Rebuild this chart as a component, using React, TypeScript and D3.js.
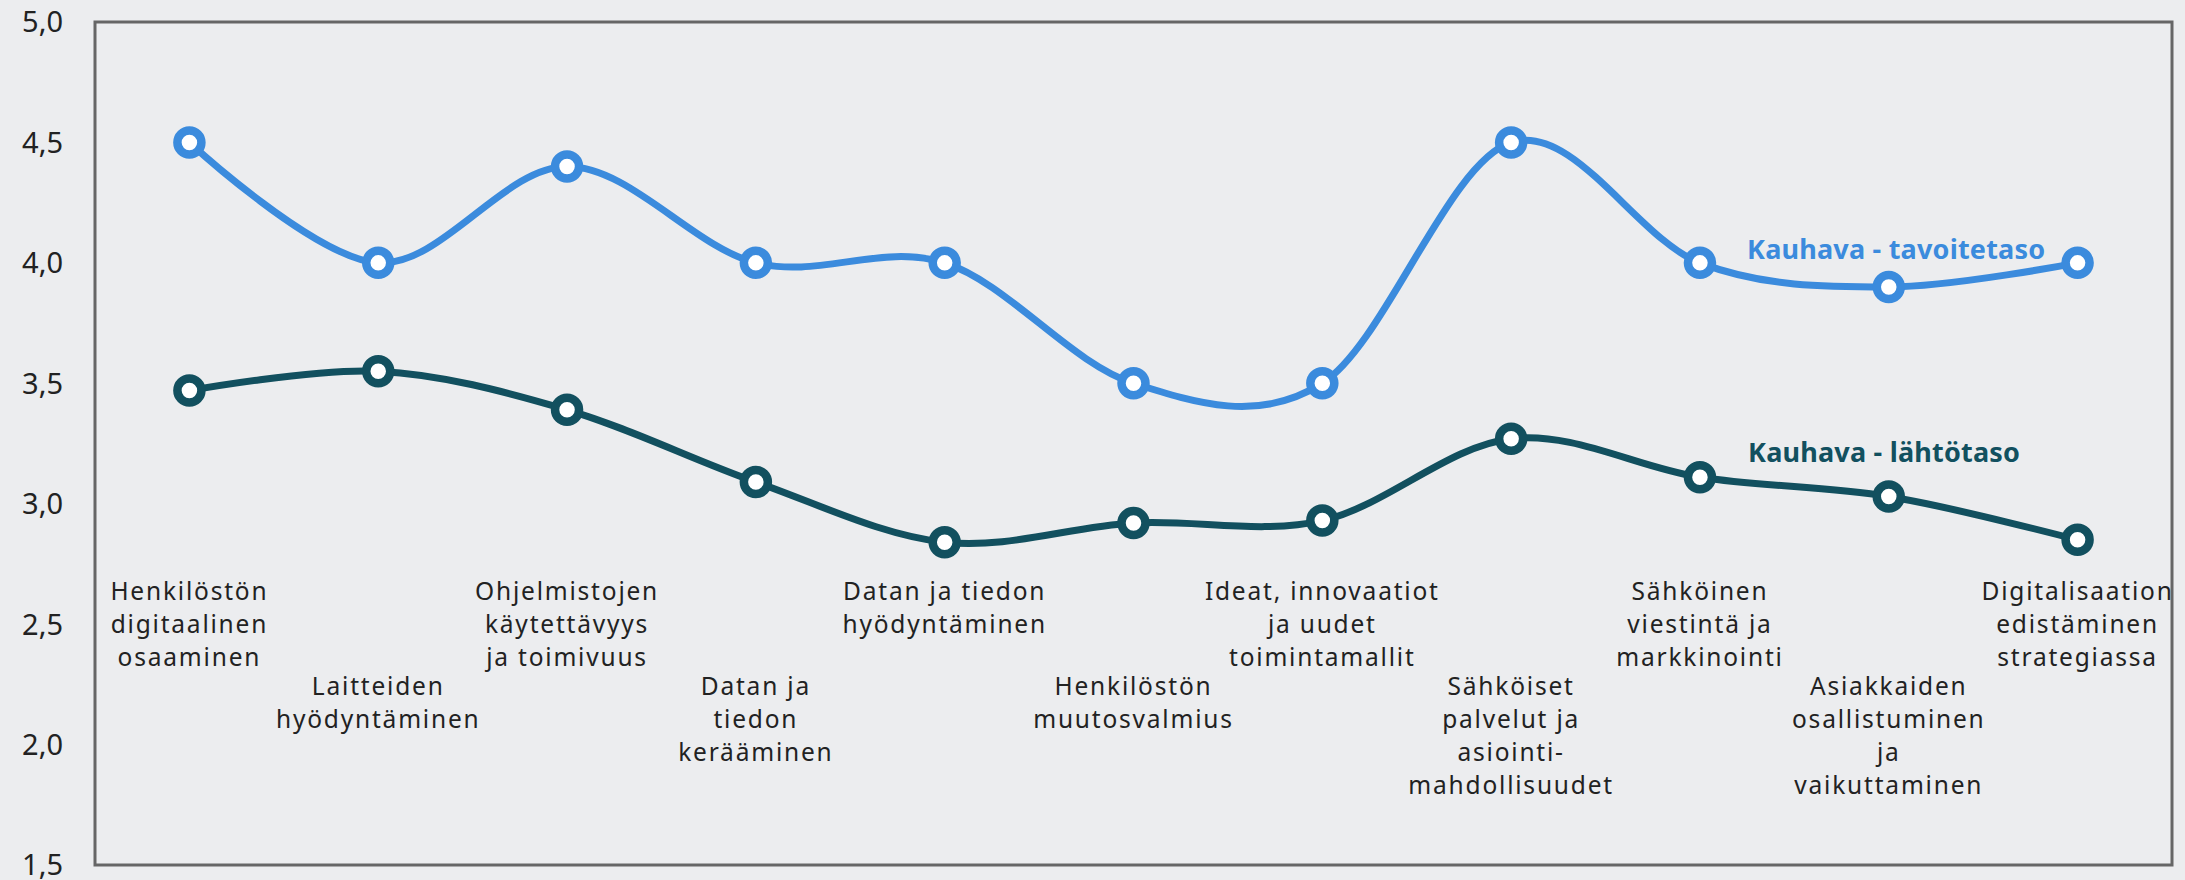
import * as d3 from 'd3';
import { useEffect, useRef } from 'react';

const categories = [
  ['Henkilöstön', 'digitaalinen', 'osaaminen'],
  ['Laitteiden', 'hyödyntäminen'],
  ['Ohjelmistojen', 'käytettävyys', 'ja toimivuus'],
  ['Datan ja', 'tiedon', 'kerääminen'],
  ['Datan ja tiedon', 'hyödyntäminen'],
  ['Henkilöstön', 'muutosvalmius'],
  ['Ideat, innovaatiot', 'ja uudet', 'toimintamallit'],
  ['Sähköiset', 'palvelut ja', 'asiointi-', 'mahdollisuudet'],
  ['Sähköinen', 'viestintä ja', 'markkinointi'],
  ['Asiakkaiden', 'osallistuminen', 'ja', 'vaikuttaminen'],
  ['Digitalisaation', 'edistäminen', 'strategiassa'],
];

const tavoitetaso = [4.5, 4.0, 4.4, 4.0, 4.0, 3.5, 3.5, 4.5, 4.0, 3.9, 4.0];
const lahtotaso = [3.47, 3.55, 3.39, 3.09, 2.84, 2.92, 2.93, 3.27, 3.11, 3.03, 2.85];

const yTicks = [1.5, 2.0, 2.5, 3.0, 3.5, 4.0, 4.5, 5.0];

const seriesNames = ['Kauhava - tavoitetaso', 'Kauhava - lähtötaso'];

const dimensions = {
  width: 2185,
  height: 880,
  left: 95,
  right: 2172,
  top: 22,
  bottom: 865,
};

const BLUE = '#3b8bdd';
const TEAL = '#12505f';
const FONT = "'Noto Sans', sans-serif";

export default function App() {
  const svgRef = useRef(null);

  useEffect(() => {
    const svg = d3.select(svgRef.current);
    svg.selectAll('*').remove();

    const xScale = d3
      .scaleBand()
      .domain(categories.map((_, i) => String(i)))
      .range([dimensions.left, dimensions.right]);
    const xc = (i: number) => (xScale(String(i)) as number) + xScale.bandwidth() / 2;

    const yScale = d3
      .scaleLinear()
      .domain([1.5, 5])
      .range([dimensions.bottom, dimensions.top]);

    svg
      .append('rect')
      .attr('width', dimensions.width)
      .attr('height', dimensions.height)
      .attr('fill', '#ecedef');

    // plot frame
    svg
      .append('rect')
      .attr('x', dimensions.left)
      .attr('y', dimensions.top)
      .attr('width', dimensions.right - dimensions.left)
      .attr('height', dimensions.bottom - dimensions.top)
      .attr('fill', 'none')
      .attr('stroke', '#666')
      .attr('stroke-width', 3);

    // y labels
    svg
      .append('g')
      .selectAll('text')
      .data(yTicks)
      .enter()
      .append('text')
      .attr('x', 63)
      .attr('y', (d) => yScale(d))
      .attr('dy', '0.36em')
      .attr('text-anchor', 'end')
      .style('font-family', FONT)
      .style('font-size', '29px')
      .style('fill', '#222')
      .text((d) => d.toFixed(1).replace('.', ','));

    // category labels, staggered
    const cat = svg.append('g');
    categories.forEach((lines, i) => {
      const t = cat
        .append('text')
        .attr('x', xc(i))
        .attr('y', i % 2 === 0 ? 600 : 695)
        .attr('text-anchor', 'middle')
        .style('font-family', FONT)
        .style('font-size', '24.5px')
        .style('letter-spacing', '1.8px')
        .style('fill', '#222');
      lines.forEach((l, j) => {
        t.append('tspan')
          .attr('x', xc(i))
          .attr('dy', j === 0 ? 0 : 33)
          .text(l);
      });
    });

    const line = d3
      .line<number>()
      .x((_, i) => xc(i))
      .y((d) => yScale(d))
      .curve(d3.curveCardinal.tension(0));

    const series = [
      { values: tavoitetaso, color: BLUE },
      { values: lahtotaso, color: TEAL },
    ];

    series.forEach((s) => {
      svg
        .append('path')
        .datum(s.values)
        .attr('d', line as any)
        .style('fill', 'none')
        .style('stroke', s.color)
        .style('stroke-width', 7);

      svg
        .append('g')
        .selectAll('circle')
        .data(s.values)
        .enter()
        .append('circle')
        .attr('cx', (_, i) => xc(i))
        .attr('cy', (d) => yScale(d))
        .attr('r', 12)
        .style('fill', '#fff')
        .style('stroke', s.color)
        .style('stroke-width', 8.5);
    });

    // series labels
    svg
      .append('text')
      .attr('x', 1747)
      .attr('y', 259)
      .style('font-family', FONT)
      .style('font-weight', 700)
      .style('font-size', '27px')
      .style('letter-spacing', '0.2px')
      .style('fill', BLUE)
      .text(seriesNames[0]);

    svg
      .append('text')
      .attr('x', 1748)
      .attr('y', 462)
      .style('font-family', FONT)
      .style('font-weight', 700)
      .style('font-size', '27px')
      .style('letter-spacing', '0.2px')
      .style('fill', TEAL)
      .text(seriesNames[1]);
  }, []);

  return (
    <div>
      <svg
        ref={svgRef}
        width={dimensions.width}
        height={dimensions.height}
        style={{ position: 'absolute', left: 0, top: 0 }}
      ></svg>
    </div>
  );
}
